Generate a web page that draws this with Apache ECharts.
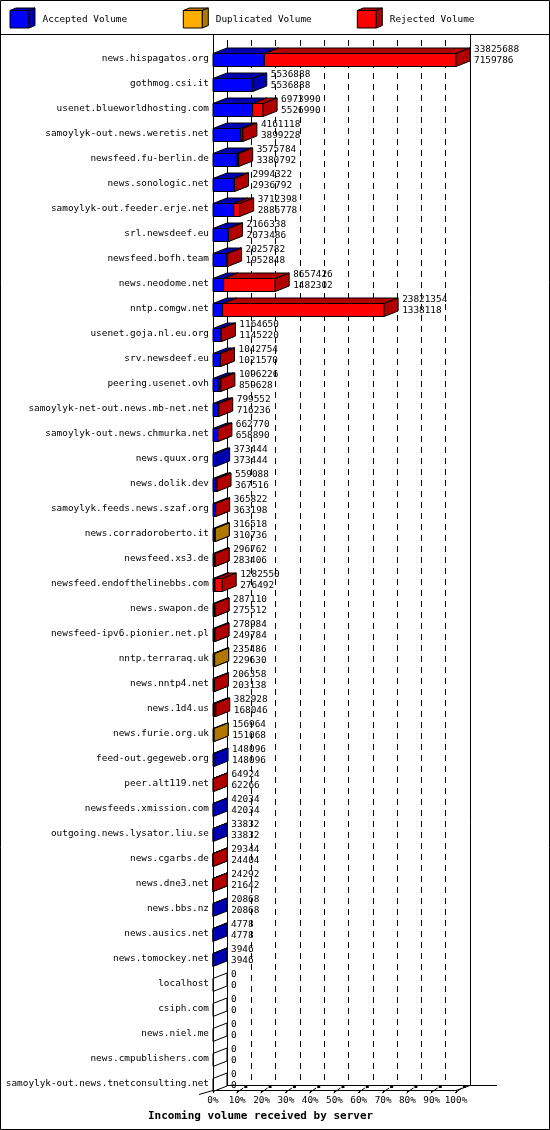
<!DOCTYPE html>
<html>
<head>
<meta charset="utf-8">
<script src="https://cdn.jsdelivr.net/npm/echarts@6/dist/echarts.min.js"></script>
<style>
html,body{margin:0;padding:0;background:#fff;}
#main{width:550px;height:1130px;}
</style>
</head>
<body>
<div id="main"></div>
<script>
// servers, sorted by accepted volume
var hosts = [
	'news.hispagatos.org','gothmog.csi.it','usenet.blueworldhosting.com','samoylyk-out.news.weretis.net',
	'newsfeed.fu-berlin.de','news.sonologic.net','samoylyk-out.feeder.erje.net','srl.newsdeef.eu',
	'newsfeed.bofh.team','news.neodome.net','nntp.comgw.net','usenet.goja.nl.eu.org','srv.newsdeef.eu',
	'peering.usenet.ovh','samoylyk-net-out.news.mb-net.net','samoylyk-out.news.chmurka.net','news.quux.org',
	'news.dolik.dev','samoylyk.feeds.news.szaf.org','news.corradoroberto.it','newsfeed.xs3.de',
	'newsfeed.endofthelinebbs.com','news.swapon.de','newsfeed-ipv6.pionier.net.pl','nntp.terraraq.uk',
	'news.nntp4.net','news.1d4.us','news.furie.org.uk','feed-out.gegeweb.org','peer.alt119.net',
	'newsfeeds.xmission.com','outgoing.news.lysator.liu.se','news.cgarbs.de','news.dne3.net','news.bbs.nz',
	'news.ausics.net','news.tomockey.net','localhost','csiph.com','news.niel.me','news.cmpublishers.com',
	'samoylyk-out.news.tnetconsulting.net'
];
var totalVolume = [
	33825688,5536888,6973990,4161118,3575784,2994322,3712398,2166338,2025782,8657426,23821354,1164650,
	1042754,1096226,799552,662770,373444,559088,365822,316518,296762,1282550,287110,278984,235486,206358,
	382928,156964,148096,64924,42034,33832,29344,24292,20868,4778,3946,0,0,0,0,0
];
var acceptedVolume = [
	7159786,5536888,5526990,3899228,3380792,2936792,2886778,2073486,1952848,1482302,1338118,1145220,
	1021570,859628,716236,658890,373444,367516,363198,310736,283406,276492,275512,249784,229630,203138,
	168046,151068,148096,62266,42034,33832,24404,21642,20868,4778,3946,0,0,0,0,0
];
var duplicatedVolume = [
	0,0,0,0,0,0,0,0,0,0,0,0,0,0,0,0,0,0,0,5782,0,0,0,0,5856,0,0,5896,0,0,0,0,0,0,0,0,0,0,0,0,0,0
];
var rejectedVolume = [
	26665902,0,1447000,261890,194992,57530,825620,92852,72934,7175124,22483236,19430,21184,236598,83316,
	3880,0,191572,2624,0,13356,1006058,11598,29200,0,3220,214882,0,0,2658,0,0,4940,2650,0,0,0,0,0,0,0,0
];
var tickLabels = ['0%','10%','20%','30%','40%','50%','60%','70%','80%','90%','100%'];
var legendNames = ['Accepted Volume','Duplicated Volume','Rejected Volume'];

var frontColors = ['#0000ff','#ffae00','#ff0000'];
var sideColors = ['#0000b0','#b07800','#b00000'];
var FONT = '"DejaVu Sans Mono", monospace';
var DX = 14, DY = 5.5;

var maxTotal = Math.max.apply(null, totalVolume);
var barData = [];
for (var i = 0; i < hosts.length; i++) {
	barData.push([i, acceptedVolume[i], duplicatedVolume[i], rejectedVolume[i], totalVolume[i]]);
}

function renderBar(params, api) {
	var idx = api.value(0);
	var segs = [api.value(1), api.value(2), api.value(3)];
	var base = api.coord([0, idx]);
	var h = api.size([0, 1])[1] * 0.5;
	var top = Math.round(base[1] - h / 2) + 0.5;
	var bottom = top + Math.round(h);
	var children = [];
	var start = 0;
	var xEnd = base[0];
	for (var k = 0; k < 3; k++) {
		var v = segs[k];
		if (!(v > 0)) continue;
		var x0 = api.coord([start, idx])[0];
		var x1 = api.coord([start + v, idx])[0];
		start += v;
		xEnd = x1;
		children.push({
			type: 'rect',
			shape: {x: x0, y: top, width: x1 - x0, height: bottom - top},
			style: {fill: frontColors[k], stroke: '#000', lineWidth: 1}
		});
		children.push({
			type: 'polygon',
			shape: {points: [[x0, top], [x0 + DX, top - DY], [x1 + DX, top - DY], [x1, top]]},
			style: {fill: sideColors[k], stroke: '#000', lineWidth: 1}
		});
		children.push({
			type: 'polygon',
			shape: {points: [[x1, top], [x1 + DX, top - DY], [x1 + DX, bottom - DY], [x1, bottom]]},
			style: {fill: sideColors[k], stroke: '#000', lineWidth: 1}
		});
	}
	if (start === 0) {
		// empty bar: only the outline of the depth
		children.push({
			type: 'polygon',
			shape: {points: [[base[0], top], [base[0] + DX, top - DY], [base[0] + DX, bottom - DY], [base[0], bottom]]},
			style: {fill: null, stroke: '#000', lineWidth: 1}
		});
	}
	children.push({
		type: 'text',
		style: {
			x: xEnd + DX + 4,
			y: base[1] - 3.5,
			text: totalVolume[idx] + '\n' + acceptedVolume[idx],
			fill: '#000',
			fontFamily: FONT,
			fontSize: 9.4,
			lineHeight: 11,
			verticalAlign: 'middle'
		}
	});
	return {type: 'group', children: children};
}

// frame, legend and axis decorations
var graphics = [
	{type: 'rect', shape: {x: 0.5, y: 0.5, width: 549, height: 1129}, style: {fill: null, stroke: '#000'}, z: 10},
	{type: 'line', shape: {x1: 0, y1: 34.5, x2: 550, y2: 34.5}, style: {stroke: '#000'}},
	{type: 'line', shape: {x1: 213.5, y1: 35, x2: 213.5, y2: 1090}, style: {stroke: '#000'}},
	{type: 'line', shape: {x1: 227.5, y1: 40, x2: 227.5, y2: 1085}, style: {stroke: '#000'}},
	{type: 'line', shape: {x1: 470.5, y1: 35, x2: 470.5, y2: 1085}, style: {stroke: '#000'}},
	{type: 'line', shape: {x1: 227, y1: 1085.5, x2: 497, y2: 1085.5}, style: {stroke: '#000'}},
	{type: 'line', shape: {x1: 199, y1: 1094.5, x2: 213, y2: 1090.5}, style: {stroke: '#000'}},
	{type: 'line', shape: {x1: 456, y1: 1090.5, x2: 470, y2: 1085.5}, style: {stroke: '#000'}}
];
for (var t = 1; t < tickLabels.length; t++) {
	var tx = 213 + 24.3 * t;
	graphics.push({type: 'line', shape: {x1: tx - 1, y1: 1093, x2: tx + 6, y2: 1088}, style: {stroke: '#000'}});
	graphics.push({type: 'rect', shape: {x: tx + 7, y: 1085, width: 3, height: 3}, style: {fill: '#000'}});
}
var legendX = [10, 183.3, 357.3];
for (var l = 0; l < legendNames.length; l++) {
	var lx = legendX[l];
	graphics.push({type: 'rect', shape: {x: lx, y: 10.5, width: 19, height: 17.5}, style: {fill: frontColors[l], stroke: '#000'}});
	graphics.push({type: 'polygon', shape: {points: [[lx, 10.5], [lx + 6, 8], [lx + 25, 8], [lx + 19, 10.5]]}, style: {fill: sideColors[l], stroke: '#000'}});
	graphics.push({type: 'polygon', shape: {points: [[lx + 19, 10.5], [lx + 25, 8], [lx + 25, 25.5], [lx + 19, 28]]}, style: {fill: sideColors[l], stroke: '#000'}});
	graphics.push({type: 'text', style: {x: lx + 32.5, y: 19.5, text: legendNames[l], fill: '#000', fontFamily: FONT, fontSize: 9.4, verticalAlign: 'middle'}});
}

var myChart = echarts.init(document.getElementById('main'), null, {renderer: 'canvas'});
var option = {
	animation: false,
	backgroundColor: '#fff',
	title: {
		text: 'Incoming volume received by server',
		left: 148,
		top: 1111,
		padding: 0,
		textStyle: {fontFamily: FONT, fontWeight: 'bold', fontSize: 11, color: '#000'}
	},
	grid: [
		{left: 213, right: 94, top: 46.5, bottom: 33.5},
		{left: 227, right: 80, top: 40, bottom: 45}
	],
	xAxis: [
		{gridIndex: 0, type: 'value', min: 0, max: maxTotal, show: false},
		{
			gridIndex: 0, type: 'value', min: 0, max: 100, interval: 10, position: 'bottom', offset: -6.5,
			axisLine: {show: true, lineStyle: {color: '#000', width: 1}},
			axisTick: {show: true, length: 3, lineStyle: {color: '#000'}},
			axisLabel: {
				margin: 6, color: '#000', fontFamily: FONT, fontSize: 9.4,
				formatter: function (v) { return tickLabels[Math.round(v / 10)]; }
			},
			splitLine: {show: false}
		},
		{
			gridIndex: 1, type: 'value', min: 0, max: 100, interval: 10,
			axisLine: {show: false}, axisTick: {show: false}, axisLabel: {show: false},
			splitLine: {show: true, showMinLine: false, showMaxLine: false, lineStyle: {color: '#000', width: 1, type: [6, 5]}}
		}
	],
	yAxis: [
		{
			gridIndex: 0, type: 'category', data: hosts, inverse: true,
			axisLine: {show: false}, axisTick: {show: false}, splitLine: {show: false},
			axisLabel: {margin: 4, color: '#000', fontFamily: FONT, fontSize: 9.4, interval: 0}
		},
		{gridIndex: 1, type: 'value', show: false}
	],
	graphic: graphics,
	series: [
		{
			type: 'custom',
			xAxisIndex: 0,
			yAxisIndex: 0,
			clip: false,
			silent: true,
			renderItem: renderBar,
			encode: {x: 4, y: 0},
			data: barData,
			z: 5
		}
	]
};
myChart.setOption(option);
</script>
</body>
</html>
